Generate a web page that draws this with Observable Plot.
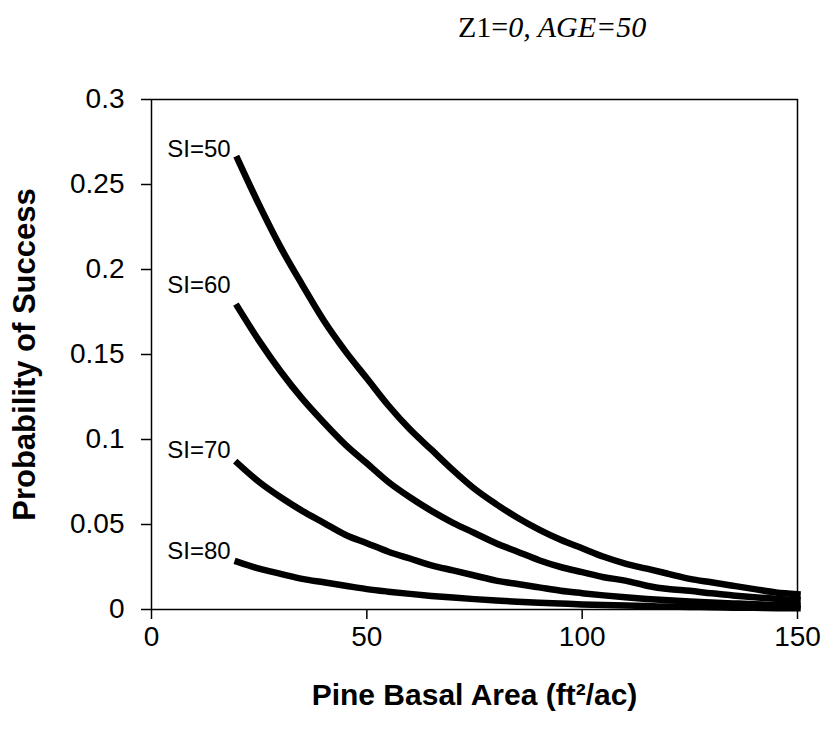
<!DOCTYPE html>
<html><head><meta charset="utf-8">
<script src="https://cdn.jsdelivr.net/npm/d3@7"></script>
<script src="https://cdn.jsdelivr.net/npm/@observablehq/plot@0.6"></script>
<style>
body{margin:0;background:#fff;}
#title{height:60px;position:relative;font-family:"Liberation Serif","Times New Roman",serif;font-size:30px;color:#000;}
#title span{position:absolute;left:458px;top:10px;white-space:nowrap;}
#chart svg{display:block;}
</style></head><body>
<div id="title"><span>Z1=<i>0, AGE=50</i></span></div>
<div id="chart"></div>
<script>
// Pine basal area (ft²/ac) sample positions
const basalArea = [20,25,30,35,40,45,50,55,60,65,70,75,80,85,90,95,100,105,110,115,120,125,130,135,140,145,150];
// Probability of success
const si50 = [0.265,0.238,0.213,0.191,0.170,0.152,0.136,0.120,0.106,0.094,0.082,0.071,0.062,0.054,0.047,0.041,0.036,0.031,0.027,0.024,0.021,0.018,0.016,0.014,0.012,0.010,0.009];
const si60 = [0.178,0.158,0.140,0.124,0.110,0.097,0.086,0.075,0.066,0.058,0.051,0.045,0.039,0.034,0.029,0.025,0.022,0.019,0.017,0.014,0.012,0.011,0.0095,0.0083,0.0072,0.0063,0.0055];
const si70 = [0.086,0.075,0.066,0.058,0.051,0.044,0.039,0.034,0.030,0.026,0.023,0.020,0.017,0.015,0.013,0.011,0.0096,0.0083,0.0072,0.0062,0.0054,0.0047,0.0041,0.0036,0.0031,0.0027,0.0024];
const si80 = [0.028,0.024,0.021,0.018,0.016,0.014,0.012,0.0105,0.0092,0.0080,0.0070,0.0061,0.0053,0.0046,0.0040,0.0035,0.0030,0.0026,0.0023,0.0020,0.0017,0.0015,0.0013,0.0011,0.0010,0.0008,0.0007];
const seriesNames = ["SI=50","SI=60","SI=70","SI=80"];
const seriesValues = [si50, si60, si70, si80];
// baseline heights of the series labels (probability units)
const labelHeights = [0.266, 0.186, 0.089, 0.030];
const xTicks = [0,50,100,150];
const yTicks = [0,0.05,0.1,0.15,0.2,0.25,0.3];
const xTitle = "Pine Basal Area (ft\u00B2/ac)";
const yTitle = "Probability of Success";

const rows = [];
seriesNames.forEach((name, i) => {
  basalArea.forEach((ba, j) => rows.push({si: name, ba, p: seriesValues[i][j]}));
});
const labels = seriesNames.map((name, i) => ({si: name, ba: basalArea[0], p: labelHeights[i]}));

const chart = Plot.plot({
  width: 828,
  height: 681,
  marginTop: 39,
  marginBottom: 132,
  marginLeft: 151,
  marginRight: 31,
  style: {fontFamily: "'Liberation Sans', Arial, sans-serif", fontSize: "28px", color: "#000", background: "#fff"},
  x: {domain: [0, 150]},
  y: {domain: [0, 0.3]},
  marks: [
    Plot.frame({stroke: "#000", strokeWidth: 1.5}),
    Plot.axisY(yTicks, {tickSize: 10, tickPadding: 17, tickFormat: d => String(+d.toFixed(2)), fontSize: 28, label: null, strokeWidth: 1.5}),
    Plot.axisX(xTicks, {tickSize: 10, tickPadding: 7, fontSize: 28, label: null, strokeWidth: 1.5}),
    Plot.line(rows, {x: "ba", y: "p", z: "si", stroke: "#000", strokeWidth: 6.5, strokeLinecap: "square", curve: "monotone-x"}),
    Plot.text(labels, {x: "ba", y: "p", text: "si", textAnchor: "end", lineAnchor: "bottom", dx: -7, fontSize: 24}),
    Plot.text([yTitle], {frameAnchor: "left", textAnchor: "middle", rotate: -90, dx: -126, fontWeight: "bold", fontSize: 31}),
    Plot.text([xTitle], {frameAnchor: "bottom", textAnchor: "middle", dy: 95, fontWeight: "bold", fontSize: 30})
  ]
});
document.getElementById("chart").appendChild(chart);
</script>
</body></html>
